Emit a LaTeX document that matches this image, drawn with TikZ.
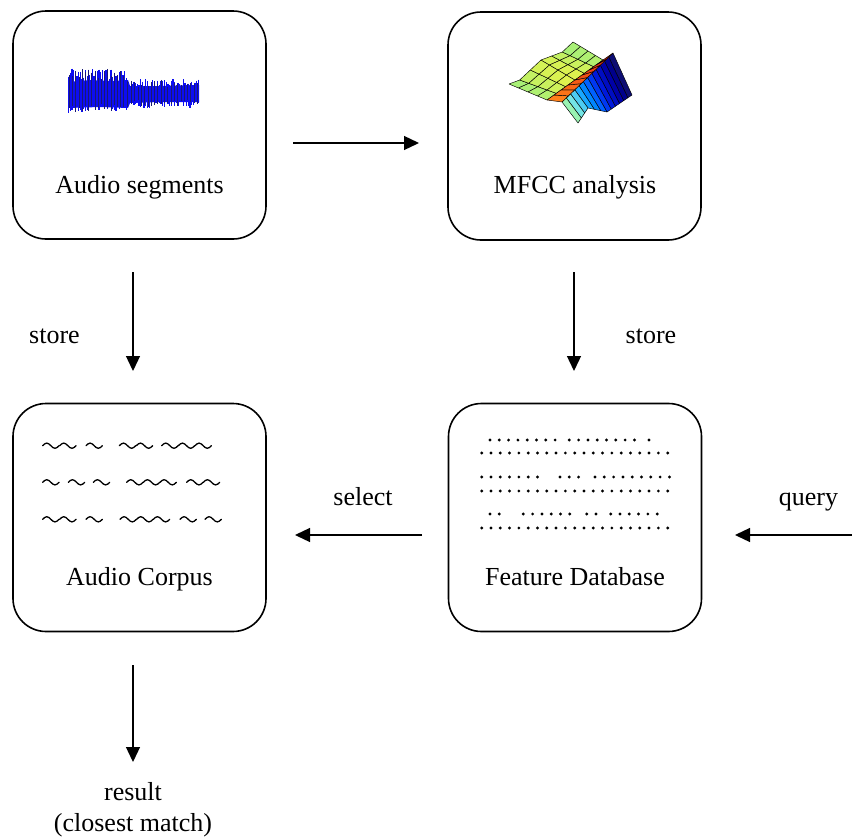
\documentclass[tikz,border=0pt]{standalone}
\usepackage{fontspec}
\setmainfont{Liberation Serif}
\usetikzlibrary{arrows.meta,calc}

\definecolor{wavebody}{rgb}{0.05,0.05,0.95}
\definecolor{wavespike}{rgb}{0.1,0.1,0.45}
\definecolor{yel}{rgb}{0.88,0.95,0.30}
\definecolor{grn}{rgb}{0.45,0.93,0.62}
\definecolor{rdg}{rgb}{0.88,0.12,0.05}
\definecolor{org}{rgb}{1.0,0.50,0.10}

\tikzset{
  box/.style={draw, line width=1.6pt, rounded corners=33pt,
    minimum width=253pt, minimum height=228pt, inner sep=0pt},
  arr/.style={line width=1.3pt, -{Triangle[length=15pt,width=14pt]}},
  lbl/.style={font=\fontsize{26}{31}\selectfont, anchor=base, inner sep=0pt},
  tildestroke/.style={line width=1.3pt, line cap=round},
  dotmark/.style={fill=black},
  mesh/.style={draw=black, line width=0.45pt, line join=round},
}

% bilinear point on the yellow/green sheet of the cepstrum surface
\newcommand\sheetpt[3]{%
  \pgfmathsetmacro\shx{(1-#2)*(1-#3)*509 + #2*(1-#3)*547 + (1-#2)*#3*573 + #2*#3*603}%
  \pgfmathsetmacro\shy{(1-#2)*(1-#3)*84 + #2*(1-#3)*100 + (1-#2)*#3*42 + #2*#3*60 + 3*sin(540*#3)*(1-#2)}%
  \coordinate (#1) at (\shx,\shy);}

% one tilde glyph of width 16.4
\newcommand\tld[2]{\draw[tildestroke] (#1,#2) sin ++(4.1,-2.6) cos ++(4.1,2.6) sin ++(4.1,2.6) cos ++(4.1,-2.6);}

% a run of dots: start (in 1/3 units), count, row y
\newcommand\dotrun[3]{\foreach \k in {1,...,#2}{\fill[dotmark] ({460+(#1+27.9*(\k-1))/3},#3) circle (1.6);}}

\begin{document}
\begin{tikzpicture}[x=1pt,y=-1pt]
\useasboundingbox (0,0) rectangle (852,838);

% ---- the four stages ----
\node[box] (seg)  at (139.5,125) {};
\node[box] (mfcc) at (574.5,126) {};
\node[box] (corp) at (139.5,517.5) {};
\node[box] (feat) at (575,517.5) {};

\node[lbl] (segt)  at (139.5,193) {Audio segments};
\node[lbl] (mfcct) at (575,193) {MFCC analysis};
\node[lbl] (corpt) at (139.5,585) {Audio Corpus};
\node[lbl] (featt) at (575,585) {Feature Database};

% ---- waveform icon ----
\fill[wavebody] (68,82) -- (90,80) -- (110,81) -- (128,80) -- (130,86) -- (160,86) -- (199,85)
  -- (199,102) -- (160,102) -- (130,103) -- (128,108) -- (100,107) -- (68,108) -- cycle;
\pgfmathsetseed{11}
\foreach \x in {68.5,70.2,...,127.5}{
  \pgfmathsetmacro\tp{68+13*rnd}
  \pgfmathsetmacro\bt{105+8*rnd}
  \draw[wavebody, line width=1.3pt] (\x,\tp) -- (\x,\bt);
}
\foreach \x in {69.4,72.6,...,127.5}{
  \pgfmathsetmacro\tp{69+12*rnd}
  \pgfmathsetmacro\bt{104+9*rnd}
  \draw[wavespike, line width=0.9pt] (\x,\tp) -- (\x,\bt);
}
\foreach \x in {130.5,132.2,...,199}{
  \pgfmathsetmacro\tp{79+8*rnd}
  \pgfmathsetmacro\bt{100+8*rnd}
  \draw[wavebody, line width=1.3pt] (\x,\tp) -- (\x,\bt);
}
\foreach \x in {131.5,134.8,...,199}{
  \pgfmathsetmacro\tp{79+8*rnd}
  \pgfmathsetmacro\bt{100+7*rnd}
  \draw[wavespike, line width=0.9pt] (\x,\tp) -- (\x,\bt);
}

% ---- cepstrum surface icon ----
% blue fan and cyan flap
\foreach \k/\r/\g/\b in {0/0.05/0.05/0.45, 1/0.0/0.0/0.55, 2/0.0/0.0/0.66, 3/0.0/0.05/0.76,
    4/0.0/0.1/0.86, 5/0.0/0.22/0.95, 6/0.0/0.38/1.0, 7/0.0/0.52/1.0,
    8/0.1/0.66/1.0, 9/0.3/0.8/0.95, 10/0.45/0.9/0.9, 11/0.6/0.95/0.7}{
  \pgfmathsetmacro\ta{\k/12}
  \pgfmathsetmacro\tb{(\k+1)/12}
  \coordinate (ta) at ({613-51*\ta},{53+49*\ta});
  \coordinate (tb) at ({613-51*\tb},{53+49*\tb});
  \pgfmathsetmacro\bax{\ta<=0.5 ? 632-50*\ta : (\ta<=0.75 ? 607-76*(\ta-0.5) : 588-40*(\ta-0.75))}
  \pgfmathsetmacro\bay{\ta<=0.5 ? 95+34*\ta : (\ta<=0.75 ? 112-16*(\ta-0.5) : 108+60*(\ta-0.75))}
  \pgfmathsetmacro\bbx{\tb<=0.5 ? 632-50*\tb : (\tb<=0.75 ? 607-76*(\tb-0.5) : 588-40*(\tb-0.75))}
  \pgfmathsetmacro\bby{\tb<=0.5 ? 95+34*\tb : (\tb<=0.75 ? 112-16*(\tb-0.5) : 108+60*(\tb-0.75))}
  \definecolor{fancol}{rgb}{\r,\g,\b}
  \filldraw[mesh, fill=fancol] (ta) -- (\bax,\bay) -- (\bbx,\bby) -- (tb) -- cycle;
}
% yellow-green sheet
\foreach \u in {0,...,3}{
  \foreach \v in {0,...,5}{
    \pgfmathsetmacro\ua{\u/4}
    \pgfmathsetmacro\ub{(\u+1)/4}
    \pgfmathsetmacro\va{\v/6}
    \pgfmathsetmacro\vb{(\v+1)/6}
    \sheetpt{p1}{\ua}{\va}
    \sheetpt{p2}{\ub}{\va}
    \sheetpt{p3}{\ub}{\vb}
    \sheetpt{p4}{\ua}{\vb}
    \pgfmathtruncatemacro\m{35+55*sin(180*(\v+0.5)/6)+10*\u/3}
    \filldraw[mesh, fill=yel!\m!grn] (p1) -- (p2) -- (p3) -- (p4) -- cycle;
  }
}
% red/orange ridge
\foreach \k in {0,...,7}{
  \pgfmathsetmacro\sa{\k/8}
  \pgfmathsetmacro\sb{(\k+1)/8}
  \sheetpt{q1}{1}{\sa}
  \sheetpt{q2}{1}{\sb}
  \pgfmathtruncatemacro\m{100-13*\k}
  \filldraw[mesh, fill=org!\m!rdg] (q1) -- (q2) -- ({562+51*\sb},{102-49*\sb}) -- ({562+51*\sa},{102-49*\sa}) -- cycle;
}

% ---- corpus tildes ----
\foreach \z in {68,119,198,298,349,425,475,525}{\tld{20+\z/3}{445.7}}
\foreach \z in {68,145,220,320,370,420,500,550}{\tld{20+\z/3}{482.3}}
\foreach \z in {68,119,198,300,350,400,480,555}{\tld{20+\z/3}{519.3}}

% ---- feature dots ----
\dotrun{90}{8}{440}\dotrun{328}{8}{440}\dotrun{567}{1}{440}
\dotrun{65}{21}{453}
\dotrun{65}{7}{477}\dotrun{300}{3}{477}\dotrun{405}{9}{477}
\dotrun{65}{21}{491}
\dotrun{90}{2}{514}\dotrun{190}{6}{514}\dotrun{380}{2}{514}\dotrun{452}{6}{514}
\dotrun{65}{21}{528}

% ---- connectors ----
\coordinate (h1a) at (293,143);  \coordinate (h1b) at (419,143);
\coordinate (s1a) at (133,272);  \coordinate (s1b) at (133,371);
\coordinate (s2a) at (574,272);  \coordinate (s2b) at (574,371);
\coordinate (sela) at (422,535); \coordinate (selb) at (295,535);
\coordinate (qa) at (852,535);   \coordinate (qb) at (735,535);
\coordinate (ra) at (133,665);   \coordinate (rb) at (133,762);

\draw[arr] (h1a) -- (h1b);
\draw[arr] (s1a) -- (s1b);
\draw[arr] (s2a) -- (s2b);
\draw[arr] (sela) -- (selb);
\draw[arr] (qa) -- (qb);
\draw[arr] (ra) -- (rb);

\node[lbl] (st1) at (54.5,343) {store};
\node[lbl] (st2) at (651,343) {store};
\node[lbl] (sel) at (363,505) {select};
\node[lbl] (qry) at (808.5,505) {query};
\node[lbl] (res) at (133,800) {result};
\node[lbl] (res2) at (133,831) {(closest match)};
\end{tikzpicture}
\end{document}
